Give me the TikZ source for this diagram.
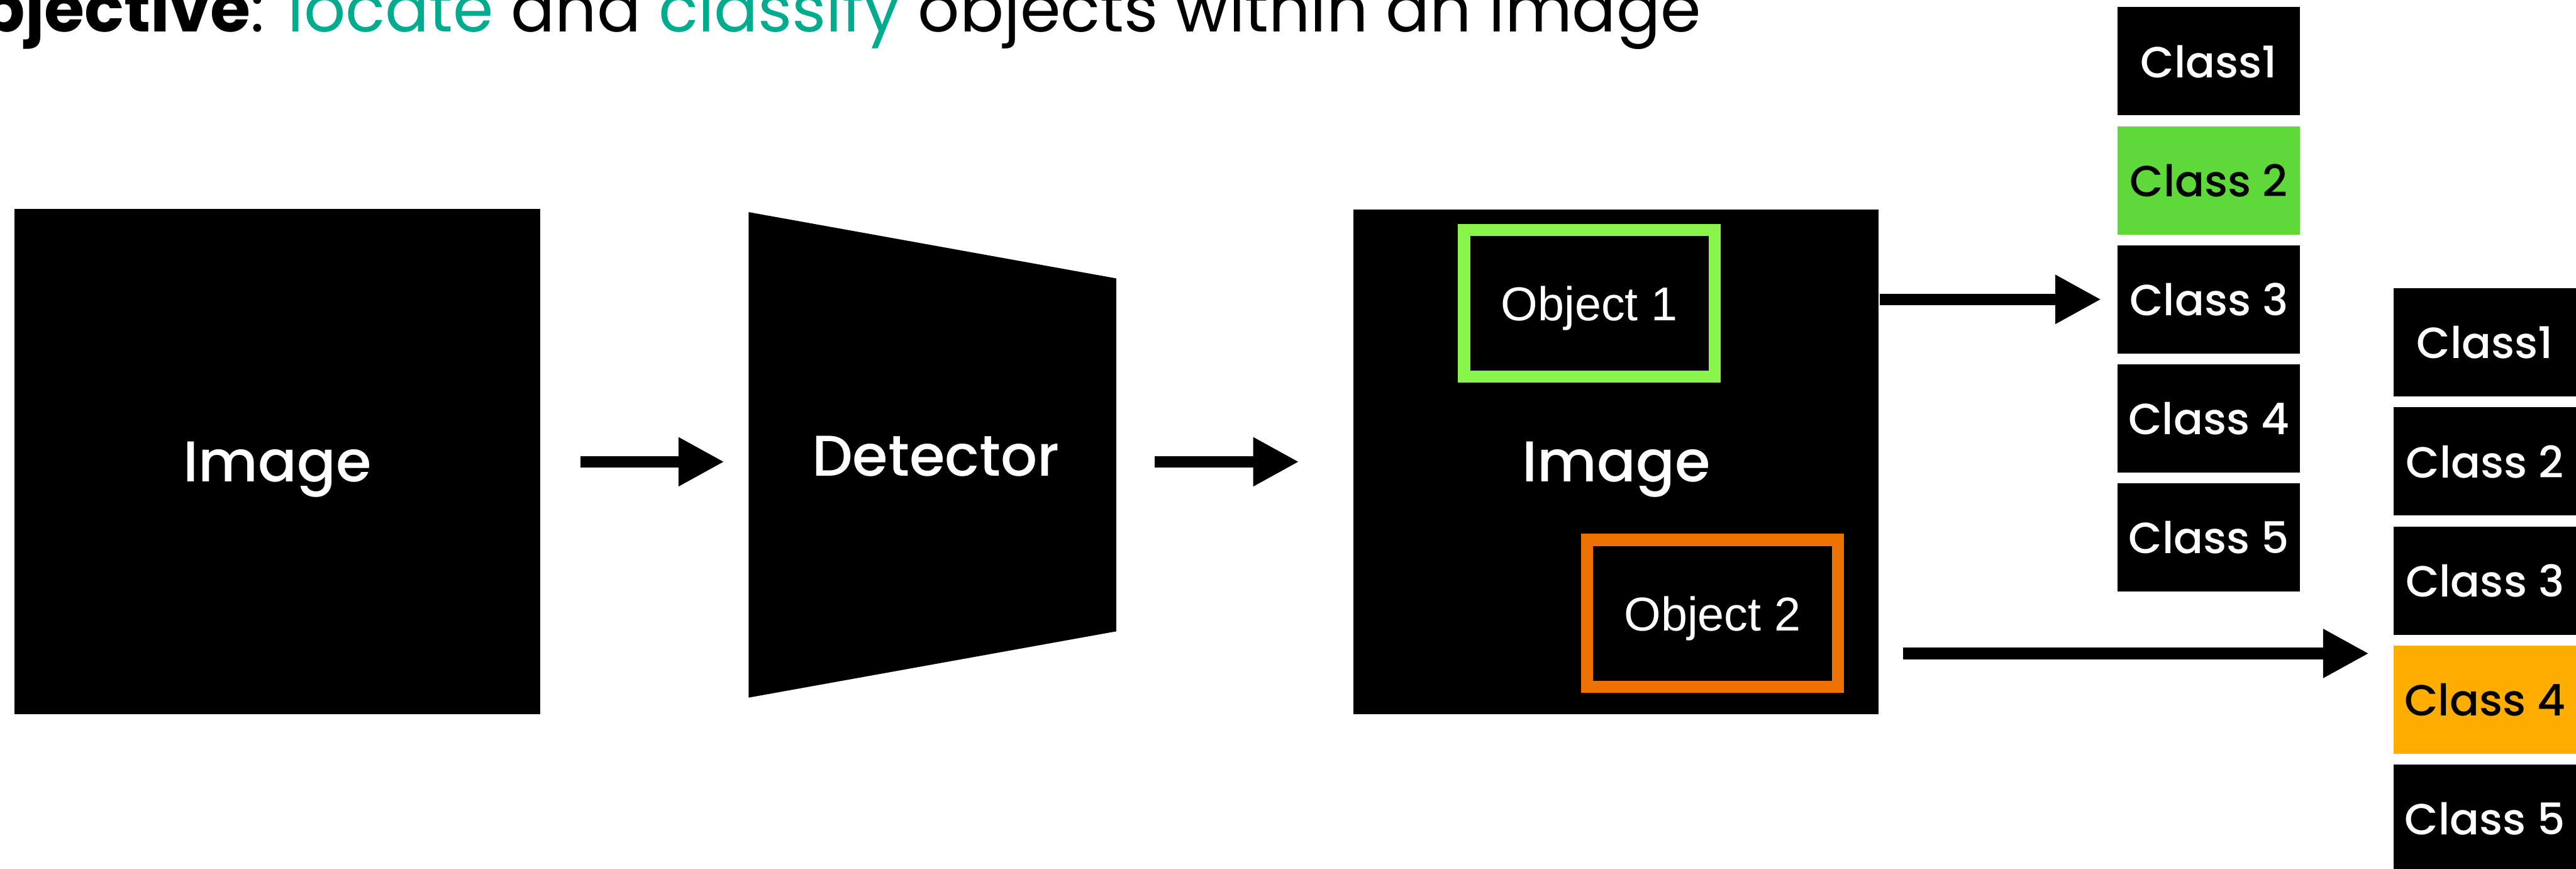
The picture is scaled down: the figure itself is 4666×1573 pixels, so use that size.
\documentclass[tikz,border=0pt]{standalone}
\usepackage{fontspec}
\setmainfont{Poppins}
\newfontfamily\popm{Poppins Medium}
\newfontfamily\helv{Liberation Sans}
\usetikzlibrary{arrows.meta,calc}
\definecolor{tealc}{HTML}{00AB8E}
\definecolor{objgreen}{HTML}{88F54A}
\definecolor{objorange}{HTML}{EE7200}
\definecolor{clsgreen}{HTML}{5FD839}
\definecolor{clsorange}{HTML}{FFAE00}
\begin{document}
\begin{tikzpicture}[x=0.1pt,y=-0.1pt,
  blk/.style={fill=black,text=white,inner sep=0pt,text depth=0pt},
  big/.style={font=\popm\fontsize{10.4}{12}\selectfont},
  cls/.style={blk,minimum width=33pt,minimum height=19.6pt,font=\popm\fontsize{7.9}{10}\selectfont},
  frame/.style={draw,line width=2.2pt,inner sep=0pt,minimum width=45.4pt,minimum height=26.6pt,text=white,text depth=0pt,font=\helv\fontsize{8.6}{10}\selectfont},
  arr/.style={line width=2.1pt,-{Triangle[length=8.3pt,width=8.3pt]}}]
\useasboundingbox (0,0) rectangle (4666,1573);
\clip (0,0) rectangle (4666,1573);
% title (cut off at the top and left edge, as in the reference)
\node[anchor=base east,inner sep=0pt,font=\fontsize{11.82}{13}\selectfont] (title) at (3083,57)
  {\textbf{Objective}: \textcolor{tealc}{locate} and \textcolor{tealc}{classify} objects within an image};
% input image
\node[blk,big,minimum width=95.2pt,minimum height=91.5pt] (img1) at (502.5,836) {Image};
% detector
\node[minimum width=66.2pt,minimum height=87.5pt,inner sep=0pt] (det) at (1689,823.5) {};
\fill (det.north west) -- ($(det.north east)+(0,120)$) -- ($(det.south east)+(0,-120)$) -- (det.south west) -- cycle;
\node[big,text=white,text depth=0pt,inner sep=0pt] (detlabel) at (1695,825.5) {Detector};
% output image
\node[blk,big,minimum width=95.1pt,minimum height=91.4pt] (img2) at (2927.5,836) {Image};
\node[frame,draw=objgreen] (obj1) at (2879,549) {Object 1};
\node[frame,draw=objorange] (obj2) at (3102,1110.5) {Object 2};
% class column 1
\node[cls] (c1-1) at (4001,111) {Class1};
\node[cls,fill=clsgreen,text=black] (c1-2) at (4001,326.5) {Class 2};
\node[cls] (c1-3) at (4001,542) {Class 3};
\node[cls] (c1-4) at (4001,757.5) {Class 4};
\node[cls] (c1-5) at (4001,973) {Class 5};
% class column 2
\node[cls] (c2-1) at (4501,620) {Class1};
\node[cls] (c2-2) at (4501,835.5) {Class 2};
\node[cls] (c2-3) at (4501,1051) {Class 3};
\node[cls,fill=clsorange,text=black] (c2-4) at (4501,1266.5) {Class 4};
\node[cls] (c2-5) at (4501,1482) {Class 5};
% arrows
\draw[arr,shorten <=7.1pt,shorten >=4.4pt] (img1.east) -- (img1.east -| det.west);
\draw[arr,shorten <=7pt,shorten >=9.7pt] (det.east |- img2.west) -- (img2.west);
\draw[arr,shorten >=2.8pt] (img2.east |- c1-3.west) -- (c1-3.west);
\coordinate (a4) at (3447,1183);
\draw[arr,shorten >=4.3pt] (a4) -- (a4 -| c2-4.west);
\end{tikzpicture}
\end{document}
